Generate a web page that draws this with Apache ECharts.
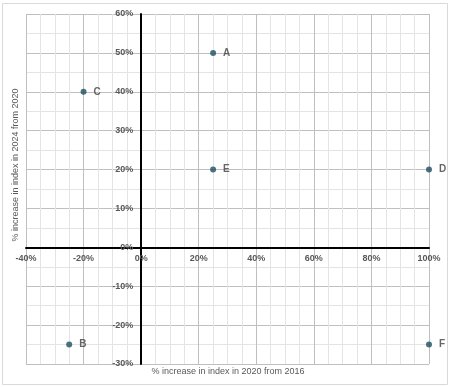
<!DOCTYPE html>
<html>
<head>
<meta charset="utf-8">
<script src="https://cdn.jsdelivr.net/npm/echarts@6/dist/echarts.min.js"></script>
<style>html,body{margin:0;padding:0;background:#fff}#c{width:450px;height:387px}</style>
</head>
<body>
<div id="c"></div>
<script>
const labels = ['A','B','C','D','E','F'];
const xValues = [25, -25, -20, 100, 25, 100];
const yValues = [50, -25, 40, 20, 20, -25];
const xTitle = '% increase in index in 2020 from 2016';
const yTitle = '% increase in index in 2024 from 2020';

const chart = echarts.init(document.getElementById('c'), null, {renderer:'canvas'});
const font = 'Liberation Sans, Arial, sans-serif';
const gridL = 26, gridR = 21, gridT = 14, gridB = 23;
chart.setOption({
  animation:false,
  grid:{left:gridL, right:gridR, top:gridT, bottom:gridB, containLabel:false, outerBoundsMode:'none'},
  xAxis:{
    type:'value', min:-40, max:100, interval:20,
    axisLine:{onZero:false, lineStyle:{color:'#000', width:2}},
    axisTick:{show:false},
    axisLabel:{formatter:v=>v+'%', color:'#595959', fontSize:9, fontWeight:'bold', fontFamily:font, margin:7},
    splitLine:{show:true, lineStyle:{color:'#bfbfbf', width:1}},
    minorTick:{show:false, splitNumber:4},
    minorSplitLine:{show:true, lineStyle:{color:'#e4e4e4', width:1}}
  },
  yAxis:{
    type:'value', min:-30, max:60, interval:10,
    axisLine:{onZero:false, lineStyle:{color:'#000', width:2}},
    axisTick:{show:false},
    axisLabel:{formatter:v=>v+'%', color:'#595959', fontSize:9, fontWeight:'bold', fontFamily:font, margin:8},
    splitLine:{show:true, lineStyle:{color:'#bfbfbf', width:1}},
    minorTick:{show:false, splitNumber:2},
    minorSplitLine:{show:true, lineStyle:{color:'#e4e4e4', width:1}}
  },
  series:[{
    type:'scatter',
    symbolSize:6,
    itemStyle:{color:'#1f4e5f'},
    data: labels.map((l,i)=>({value:[xValues[i], yValues[i]], name:l})),
    label:{show:true, position:'right', distance:7, formatter:p=>p.name, color:'#404040', fontSize:10, fontWeight:'bold', fontFamily:font},
    z:5
  }],
  graphic:[
    {type:'rect', shape:{x:2.5, y:3.5, width:445, height:381}, style:{fill:'none', stroke:'#d9d9d9', lineWidth:1}, z:-10},
    {type:'text', x:228, y:372, style:{text:xTitle, fill:'#595959', font:'9px '+font, textAlign:'center', textVerticalAlign:'middle'}},
    {type:'text', x:16, y:165, rotation:Math.PI/2, style:{text:yTitle, fill:'#595959', font:'9px '+font, textAlign:'center', textVerticalAlign:'middle'}}
  ]
});
// move both axes (line + labels) to cross at zero, using the library's own scale
const zero = chart.convertToPixel({gridIndex:0}, [0, 0]);
const H = chart.getHeight();
chart.setOption({
  xAxis:{offset: -((H - gridB) - zero[1])},
  yAxis:{offset: -(zero[0] - gridL)}
});
</script>
</body>
</html>
